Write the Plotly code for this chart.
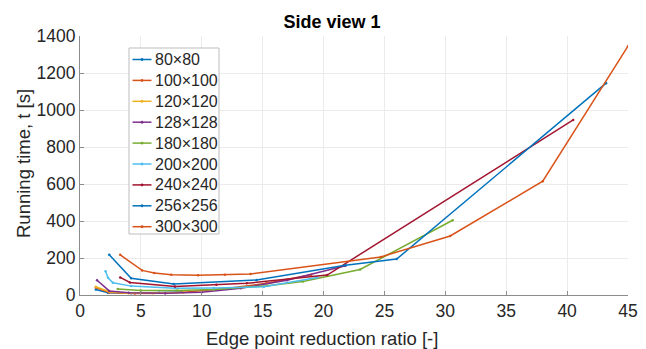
import plotly.graph_objects as go

names = ["80×80", "100×100", "120×120", "128×128", "180×180",
         "200×200", "240×240", "256×256", "300×300"]
colors = ["#0072BD", "#D95319", "#EDB120", "#7E2F8E", "#77AC30",
          "#4DBEEE", "#A2142F", "#0072BD", "#D95319"]

x_80 = [1.3, 2.3, 4.2, 6.5, 8.4]
y_80 = [30, 12, 10, 12, 16]
x_100 = [1.3, 2.4, 4.5, 7.0, 9.0, 12.0, 15.3, 19.0]
y_100 = [40, 14, 8, 10, 18, 35, 63, 110]
x_120 = [1.3, 2.4, 4.0, 6.0, 8.5]
y_120 = [45, 18, 10, 10, 14]
x_128 = [1.4, 2.4, 4.0, 7.0, 10.0, 13.2, 17.0, 21.8]
y_128 = [80, 22, 12, 10, 15, 36, 80, 158]
x_180 = [3.1, 5.0, 8.0, 11.0, 15.4, 18.3, 23.0, 30.6]
y_180 = [32, 25, 25, 30, 50, 73, 138, 404]
x_200 = [2.1, 2.3, 2.7, 4.2, 7.8, 11.0, 15.1, 19.5]
y_200 = [129, 93, 66, 48, 36, 38, 45, 95]
x_240 = [3.3, 4.1, 7.8, 11.2, 13.7, 20.3, 40.5]
y_240 = [95, 68, 46, 55, 63, 108, 946]
x_256 = [2.4, 4.2, 7.7, 14.5, 21.8, 26.0, 43.2]
y_256 = [218, 90, 59, 81, 161, 194, 1145]
x_300 = [3.3, 5.1, 6.1, 7.5, 9.7, 11.9, 14.0, 24.7, 30.4, 38.0, 45.0]
y_300 = [217, 133, 119, 109, 107, 109, 114, 206, 319, 615, 1345]

xs = [x_80, x_100, x_120, x_128, x_180, x_200, x_240, x_256, x_300]
ys = [y_80, y_100, y_120, y_128, y_180, y_200, y_240, y_256, y_300]

x_ticks = [0, 5, 10, 15, 20, 25, 30, 35, 40, 45]
y_ticks = [0, 200, 400, 600, 800, 1000, 1200, 1400]

# Page body has an 8px margin; figure is sized/offset to compensate.
OFF = 8
W, H = 646 - OFF, 349 - OFF
PL, PR, PT, PB = 80, 628, 36, 295  # plot area in page pixels
PW, PH = PR - PL, PB - PT


def px(xp):
    return (xp - PL) / PW


def py(yp):
    return (PB - yp) / PH


fig = go.Figure()
for n, c, x, y in zip(names, colors, xs, ys):
    fig.add_trace(go.Scatter(x=x, y=y, name=n, mode="lines+markers",
                             line=dict(color=c, width=1.5),
                             marker=dict(color=c, size=2.5),
                             showlegend=False))

font = "Liberation Sans, Arial, sans-serif"
txt = "#262626"

# Manual legend (MATLAB-style compact box)
shapes = [dict(type="rect", xref="paper", yref="paper",
               x0=px(129), x1=px(219), y0=py(234), y1=py(48),
               line=dict(color="#bdbdbd", width=1), fillcolor="white",
               layer="above")]
annotations = []
for i, (n, c) in enumerate(zip(names, colors)):
    yc = 59.5 + i * 20.9
    shapes.append(dict(type="line", xref="paper", yref="paper",
                       x0=px(132.5), x1=px(151.5), y0=py(yc), y1=py(yc),
                       line=dict(color=c, width=1.5), layer="above"))
    shapes.append(dict(type="circle", xref="paper", yref="paper",
                       x0=px(140.8), x1=px(143.2), y0=py(yc + 1.2),
                       y1=py(yc - 1.2), line=dict(color=c, width=0.5),
                       fillcolor=c, layer="above"))
    annotations.append(dict(text=n, xref="paper", yref="paper",
                            x=px(153), y=py(yc), xanchor="left",
                            yanchor="middle", showarrow=False,
                            font=dict(size=16, color=txt, family=font)))

annotations += [
    dict(text="Edge point reduction ratio [-]", xref="paper", yref="paper",
         x=px(322), y=py(338), xanchor="center", yanchor="middle",
         showarrow=False, font=dict(size=18.5, color=txt)),
    dict(text="Running time, t [s]", xref="paper", yref="paper",
         x=px(23), y=py(164), xanchor="center", yanchor="middle",
         textangle=-90, showarrow=False, font=dict(size=18.5, color=txt)),
]

fig.update_layout(
    width=W, height=H,
    margin=dict(l=PL - OFF, r=646 - PR, t=PT - OFF, b=349 - PB),
    paper_bgcolor="white", plot_bgcolor="white",
    font=dict(family=font, color=txt),
    title=dict(text="<b>Side view 1</b>", xref="container",
               x=(332 - OFF) / W, xanchor="center", yref="container",
               y=1 - (21.5 - OFF) / H, yanchor="middle",
               font=dict(size=18, color="#000")),
    showlegend=False,
    shapes=shapes,
    annotations=annotations,
)
fig.update_xaxes(range=[0, 45], tickvals=x_ticks, showgrid=True,
                 gridcolor="#ebebeb", showline=True, linecolor="#8c8c8c",
                 ticks="inside", ticklen=4, tickcolor="#8c8c8c",
                 tickfont=dict(size=17.5, color=txt), zeroline=False,
                 automargin=False)
fig.update_yaxes(range=[0, 1400], tickvals=y_ticks, showgrid=True,
                 gridcolor="#ebebeb", showline=True, linecolor="#8c8c8c",
                 ticks="inside", ticklen=4, tickcolor="#8c8c8c",
                 tickfont=dict(size=17.5, color=txt), zeroline=False,
                 automargin=False)

fig.write_html("out.html")
